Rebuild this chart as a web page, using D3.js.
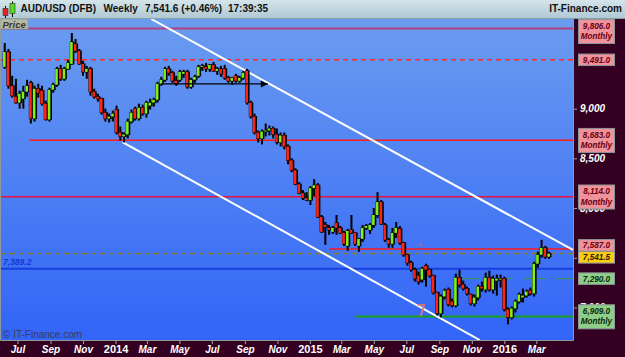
<!DOCTYPE html>
<html>
<head>
<meta charset="utf-8">
<script src="https://cdn.jsdelivr.net/npm/d3@7"></script>
<style>
  body { margin: 0; background: #fff; }
  svg { display: block; font-family: "Liberation Sans", Arial, sans-serif; }
</style>
</head>
<body>
<div id="chart"></div>
<script>
// weekly AUD/USD (DFB) candles, first bar week of 7 Jun 2013
var firstWeek = new Date(2013, 5, 7);

var opens = [9420,9570,9230,9120,9060,9100,9170,9260,8900,9200,9180,9050,8890,9190,9240,9400,9300,9400,9450,
  9650,9580,9450,9370,9400,9170,9120,9100,8960,8900,8920,8990,8760,8720,8740,8870,9000,8900,9010,8950,
  9030,9060,9090,9250,9290,9400,9360,9280,9290,9350,9370,9220,9290,9330,9420,9420,9400,9440,9380,9400,9400,
  9310,9280,9330,9280,9310,9380,9060,8920,8760,8700,8770,8780,8800,8740,8660,8730,8620,8480,8380,8240,
  8150,8100,8080,8200,8230,7910,7830,7800,7760,7850,7800,7750,7620,7780,7750,7620,7690,7800,7780,7830,
  7930,8060,7830,7680,7640,7750,7790,7650,7530,7450,7380,7320,7280,7420,7380,7320,7150,6940,7110,7180,
  7060,7020,7300,7230,7190,7130,7040,7100,7210,7180,7300,7180,7270,7290,7290,6980,6900,6990,7060,7100,
  7120,7170,7140,7440,7530,7600,7510];
var highs = [9660,9600,9330,9300,9180,9230,9290,9280,9230,9250,9230,9080,9210,9260,9420,9440,9420,9490,9760,
  9700,9600,9480,9430,9420,9200,9150,9110,9000,8950,8980,9030,8820,8760,8900,8990,9020,9050,9040,9080,
  9100,9110,9270,9320,9420,9430,9380,9330,9390,9390,9390,9310,9340,9440,9450,9460,9450,9470,9420,9430,9440,
  9330,9320,9350,9330,9380,9400,9080,8950,8780,8790,8850,8830,8820,8800,8760,8760,8640,8500,8400,8260,
  8180,8160,8220,8290,8250,7930,7860,7830,7820,7930,7820,7770,7790,7930,7760,7700,7830,7840,7850,8000,
  8160,8080,7850,7700,7800,7860,7820,7660,7540,7470,7400,7360,7410,7440,7390,7330,7160,7130,7190,7200,
  7090,7340,7380,7270,7210,7140,7130,7230,7260,7350,7370,7320,7330,7330,7310,7000,7010,7080,7150,7190,
  7180,7200,7460,7560,7680,7620,7560];
var lows = [9400,9200,9110,9050,9000,9000,9120,8850,8870,9110,9030,8880,8870,9160,9220,9280,9280,9390,9440,
  9560,9440,9330,9300,9130,9100,9070,8940,8870,8860,8870,8740,8680,8660,8700,8850,8880,8880,8930,8910,
  8990,9020,9060,9230,9270,9330,9260,9230,9270,9310,9200,9200,9260,9310,9380,9370,9370,9370,9340,9320,9290,
  9260,9240,9260,9260,9290,9040,8900,8740,8660,8640,8720,8730,8700,8640,8620,8590,8440,8360,8230,8140,
  8080,8070,8030,8120,7900,7750,7630,7730,7740,7730,7740,7620,7570,7740,7620,7560,7660,7780,7740,7800,
  7900,7830,7660,7600,7600,7700,7630,7510,7420,7360,7260,7230,7250,7210,7300,7130,6920,6900,7080,7010,
  7000,7000,7200,7170,7120,7020,7010,7070,7160,7150,7160,7140,7120,7200,6960,6830,6880,6950,7040,7050,
  7100,7120,7110,7400,7500,7490,7490];
var closes = [9570,9230,9130,9060,9150,9170,9230,8900,9200,9160,9050,8890,9190,9240,9400,9300,9400,9460,9670,
  9580,9450,9370,9400,9170,9120,9100,8960,8900,8920,8950,8760,8720,8740,8870,8960,8900,9010,8950,9060,
  9060,9090,9250,9290,9400,9360,9280,9250,9370,9370,9220,9290,9320,9420,9430,9400,9440,9380,9400,9350,9310,
  9280,9310,9280,9310,9360,9060,8920,8760,8700,8770,8780,8800,8740,8660,8730,8620,8480,8380,8240,8150,
  8100,8080,8200,8230,7910,7760,7810,7780,7800,7800,7750,7640,7770,7750,7640,7690,7800,7820,7830,7930,
  8060,7840,7680,7640,7750,7800,7650,7530,7450,7380,7290,7260,7390,7380,7320,7150,6940,7110,7170,7030,
  7020,7300,7230,7190,7140,7040,7100,7210,7190,7300,7180,7290,7290,7290,6980,6900,6990,7060,7130,7120,
  7160,7140,7440,7530,7600,7510,7542];

// support / resistance levels drawn across the chart
var levelValues = [9806, 9491, 8683, 8114, 7587, 7541.5, 7389.2, 7290, 6909];
var levelTags = ['Monthly', '', 'Monthly', 'Monthly', '', '', '', '', 'Monthly'];
var levelStarts = [null, null, new Date(2013, 6, 23), null, new Date(2015, 1, 6), null, null,
  new Date(2015, 9, 5), new Date(2015, 2, 27)];

// trend channel, arrow and markers (date, price)
var channelUpper = [[new Date(2014, 2, 9), 9902], [new Date(2016, 4, 9), 7578]];
var channelLower = [[new Date(2014, 0, 14), 8664], [new Date(2015, 10, 16), 6672]];
var arrowLine = [[new Date(2014, 2, 28), 9248], [new Date(2014, 9, 14), 9248]];
var flagPoint = [new Date(2015, 6, 28), 6904];
var dotPoint = [new Date(2015, 6, 28), 7630];

var priceTicks = [7000, 7500, 8000, 8500, 9000];
var hiddenTicks = [7500]; // fully covered by the level tags

var width = 625,
    height = 357,
    plotLeft = 1,
    plotRight = 573,
    plotTop = 19,
    plotBottom = 340;

var candles = opens.map(function(o, i) {
    return {
        date: d3.timeWeek.offset(firstWeek, i),
        o: o, h: highs[i], l: lows[i], c: closes[i]
    };
});

var x = d3.scaleTime()
    .domain([new Date(2013, 4, 31), new Date(2016, 4, 9)])
    .range([plotLeft, plotRight]);

var y = d3.scaleLinear()
    .domain([9806, 6909])
    .range([28.5, 316.5]);

var svg = d3.select('#chart').append('svg')
    .attr('width', width)
    .attr('height', height);

var defs = svg.append('defs');

var headGrad = defs.append('linearGradient').attr('id', 'head-grad')
    .attr('x1', 0).attr('y1', 0).attr('x2', 0).attr('y2', 1);
headGrad.append('stop').attr('offset', '0%').attr('stop-color', '#d4e4ea');
headGrad.append('stop').attr('offset', '100%').attr('stop-color', '#afc8d2');

var plotGrad = defs.append('linearGradient').attr('id', 'plot-grad')
    .attr('x1', 0).attr('y1', 0).attr('x2', 0).attr('y2', 1);
plotGrad.append('stop').attr('offset', '0%').attr('stop-color', '#6a9cf0');
plotGrad.append('stop').attr('offset', '100%').attr('stop-color', '#3264f7');

defs.append('clipPath').attr('id', 'plot-clip')
    .append('rect')
    .attr('x', plotLeft).attr('y', plotTop)
    .attr('width', plotRight - plotLeft).attr('height', plotBottom - plotTop);

// dark frame for axes
svg.append('rect')
    .attr('width', width).attr('height', height)
    .attr('fill', '#330022');

// plot background
svg.append('rect')
    .attr('x', plotLeft).attr('y', plotTop)
    .attr('width', plotRight - plotLeft).attr('height', plotBottom - plotTop)
    .attr('fill', 'url(#plot-grad)');

svg.append('path')
    .attr('d', 'M0.5,' + plotTop + 'V' + (plotBottom + 0.5) + 'H' + (plotRight + 0.5) + 'V' + plotTop)
    .attr('fill', 'none')
    .attr('stroke', '#8f9a9c')
    .attr('stroke-width', 1);

var canvas = svg.append('g').attr('clip-path', 'url(#plot-clip)');

// horizontal levels
var levelStyle = [
    { stroke: '#b0407c', width: 2, dash: null },
    { stroke: '#ff2a2a', width: 1.5, dash: '5,4' },
    { stroke: '#ff1a1a', width: 1.5, dash: null },
    { stroke: '#e8123c', width: 1.5, dash: null },
    { stroke: '#ff1a1a', width: 1.5, dash: null },
    { stroke: '#8a7b2c', width: 1.5, dash: '5,4' },
    { stroke: '#1a3fe0', width: 2, dash: null },
    { stroke: '#3c9a3c', width: 1, dash: '22,11' },
    { stroke: '#16a016', width: 2, dash: null }
];

canvas.selectAll('.level')
    .data(levelValues)
    .enter().append('line')
    .attr('class', 'level')
    .attr('x1', function(d, i) { return levelStarts[i] ? x(levelStarts[i]) : plotLeft; })
    .attr('x2', plotRight)
    .attr('y1', function(d) { return y(d); })
    .attr('y2', function(d) { return y(d); })
    .attr('stroke', function(d, i) { return levelStyle[i].stroke; })
    .attr('stroke-width', function(d, i) { return levelStyle[i].width; })
    .attr('stroke-dasharray', function(d, i) { return levelStyle[i].dash; });

// channel
var line = d3.line()
    .x(function(d) { return x(d[0]); })
    .y(function(d) { return y(d[1]); });

canvas.selectAll('.channel')
    .data([channelUpper, channelLower])
    .enter().append('path')
    .attr('class', 'channel')
    .attr('d', line)
    .attr('stroke', '#ffffff')
    .attr('stroke-width', 2)
    .attr('fill', 'none');

// candles
var bars = canvas.selectAll('.candle')
    .data(candles)
    .enter().append('g')
    .attr('class', 'candle')
    .attr('transform', function(d) { return 'translate(' + x(d.date) + ',0)'; });

bars.append('rect')
    .attr('x', -1)
    .attr('width', 2)
    .attr('y', function(d) { return y(d.h); })
    .attr('height', function(d) { return y(d.l) - y(d.h); })
    .attr('fill', '#000');

bars.append('rect')
    .attr('x', -2)
    .attr('width', 4.5)
    .attr('y', function(d) { return y(Math.max(d.o, d.c)) - 0.5; })
    .attr('height', function(d) { return Math.max(2, Math.abs(y(d.o) - y(d.c)) + 1); })
    .attr('fill', '#000');

bars.append('rect')
    .attr('x', -1.7)
    .attr('width', 2.6)
    .attr('y', function(d) { return y(Math.max(d.o, d.c)); })
    .attr('height', function(d) { return Math.max(1, Math.abs(y(d.o) - y(d.c))); })
    .attr('fill', function(d) { return d.c >= d.o ? '#7ef01a' : '#ff2418'; });

// arrow
canvas.append('path')
    .attr('d', line(arrowLine))
    .attr('stroke', '#000')
    .attr('stroke-width', 1.2);

var arrowEnd = [x(arrowLine[1][0]), y(arrowLine[1][1])];
canvas.append('path')
    .attr('d', 'M' + arrowEnd[0] + ',' + arrowEnd[1] + 'l-7,-3.5v7z')
    .attr('fill', '#000');

// small markers
canvas.append('path')
    .attr('transform', 'translate(' + x(flagPoint[0]) + ',' + y(flagPoint[1]) + ')')
    .attr('d', 'M-3.5,-12h7l-3.5,11')
    .attr('fill', 'none')
    .attr('stroke', '#f07868')
    .attr('stroke-width', 1.6);

canvas.append('circle')
    .attr('cx', x(dotPoint[0]))
    .attr('cy', y(dotPoint[1]))
    .attr('r', 0.9)
    .attr('fill', '#ff6a33');

// blue level label on the left
svg.append('text')
    .attr('x', 3)
    .attr('y', y(levelValues[6]) - 3.5)
    .attr('fill', '#1437d6')
    .attr('font-size', 8.5)
    .attr('font-weight', 'bold')
    .attr('font-style', 'italic')
    .text(d3.format(',.1f')(levelValues[6]));

// Price tag
svg.append('rect')
    .attr('x', 0).attr('y', plotTop)
    .attr('width', 28).attr('height', 10)
    .attr('fill', '#b6b9a6')
    .attr('stroke', '#8e9484')
    .attr('stroke-width', 0.6);
svg.append('text')
    .attr('x', 2.5).attr('y', 27.5)
    .attr('font-size', 9.5)
    .attr('font-weight', 'bold')
    .attr('font-style', 'italic')
    .attr('fill', '#38382a')
    .text('Price');

svg.append('text')
    .attr('x', 3).attr('y', 337.5)
    .attr('font-size', 10)
    .attr('fill', '#3a3d5c')
    .text('\u00a9 IT-Finance.com');

// header
svg.append('rect')
    .attr('width', width).attr('height', plotTop)
    .attr('fill', 'url(#head-grad)');
svg.append('line')
    .attr('x1', 0).attr('x2', width)
    .attr('y1', plotTop - 0.5).attr('y2', plotTop - 0.5)
    .attr('stroke', '#8d9fa6');

var icon = svg.append('g');
icon.append('line').attr('x1', 5.5).attr('x2', 5.5).attr('y1', 6).attr('y2', 18).attr('stroke', '#000');
icon.append('rect').attr('x', 3).attr('y', 8.5).attr('width', 5).attr('height', 7)
    .attr('fill', '#ee2222').attr('stroke', '#333').attr('stroke-width', 0.6);
icon.append('line').attr('x1', 12.5).attr('x2', 12.5).attr('y1', 1.5).attr('y2', 17).attr('stroke', '#000');
icon.append('rect').attr('x', 10).attr('y', 3.5).attr('width', 5).attr('height', 10)
    .attr('fill', '#55dd22').attr('stroke', '#333').attr('stroke-width', 0.6);

var titleParts = [
    { text: 'AUD/USD (DFB)', x: 20.5 },
    { text: 'Weekly', x: 103.5 },
    { text: '7,541.6 (+0.46%)', x: 145 },
    { text: '17:39:35', x: 228 }
];
svg.selectAll('.title')
    .data(titleParts)
    .enter().append('text')
    .attr('class', 'title')
    .attr('x', function(d) { return d.x; })
    .attr('y', 12)
    .attr('font-size', 10)
    .attr('font-weight', 'bold')
    .attr('fill', '#111')
    .text(function(d) { return d.text; });

svg.append('text')
    .attr('x', 622).attr('y', 12)
    .attr('text-anchor', 'end')
    .attr('font-size', 10)
    .attr('font-weight', 'bold')
    .attr('fill', '#111')
    .text('IT-Finance.com');

// right price axis
var yAxis = svg.append('g')
    .attr('transform', 'translate(' + plotRight + ',0)')
    .call(d3.axisRight(y).tickValues(priceTicks).tickSize(4).tickPadding(3).tickFormat(function(d) {
        return hiddenTicks.indexOf(d) < 0 ? d3.format(',')(d) : '';
    }));
yAxis.select('.domain').remove();
yAxis.selectAll('line').attr('stroke', '#9aa0a4').attr('x1', 0.5);
yAxis.selectAll('text')
    .attr('fill', '#ffffff')
    .attr('font-family', '"Liberation Sans", Arial, sans-serif')
    .attr('font-size', 10)
    .attr('font-weight', 'bold')
    .attr('font-style', 'italic');

// level tags on the right
var tagFill = ['#ef929b', '#ef929b', '#ef929b', '#ef929b', '#ef929b', '#ffcc14', null, '#8fce88', '#8fce88'];
var tagInk = ['#6a0010', '#6a0010', '#6a0010', '#6a0010', '#6a0010', '#2a1a00', null, '#0c2a0c', '#0c2a0c'];

var tags = levelValues.map(function(v, i) {
    var two = levelTags[i] !== '';
    var h = two ? 24 : 11.5;
    return { i: i, value: v, tag: levelTags[i], h: h, top: two ? y(v) - 11.7 : y(v) - h / 2 };
}).filter(function(d) { return tagFill[d.i]; });

tags.sort(function(a, b) { return a.top - b.top; });
tags.forEach(function(d, k) {
    if (d.top < plotTop + 0.5) d.top = plotTop + 0.5;
    var prev = tags[k - 1];
    if (prev && d.top < prev.top + prev.h + 0.5) {
        var overlap = prev.top + prev.h + 0.5 - d.top;
        prev.top -= overlap / 2;
        d.top += overlap / 2;
    }
});

var tagGroups = svg.selectAll('.tag')
    .data(tags)
    .enter().append('g')
    .attr('class', 'tag')
    .attr('transform', function(d) { return 'translate(578,' + d.top + ')'; });

tagGroups.append('rect')
    .attr('x', 0.5).attr('y', 0)
    .attr('width', 36).attr('height', function(d) { return d.h; })
    .attr('fill', function(d) { return tagFill[d.i]; })
    .attr('stroke', '#8c9696')
    .attr('stroke-width', 1);

tagGroups.append('text')
    .attr('x', 18.5)
    .attr('y', function(d) { return d.tag ? 9.3 : 8.8; })
    .attr('text-anchor', 'middle')
    .attr('font-size', 8.2)
    .attr('font-weight', 'bold')
    .attr('font-style', 'italic')
    .attr('fill', function(d) { return tagInk[d.i]; })
    .text(function(d) { return d3.format(',.1f')(d.value); });

tagGroups.filter(function(d) { return d.tag; })
    .append('text')
    .attr('x', 18.5)
    .attr('y', 19.5)
    .attr('text-anchor', 'middle')
    .attr('font-size', 8.2)
    .attr('font-weight', 'bold')
    .attr('font-style', 'italic')
    .attr('fill', function(d) { return tagInk[d.i]; })
    .text(function(d) { return d.tag; });

// bottom date axis
var monthTicks = d3.timeMonth.every(2).range(new Date(2013, 5, 1), new Date(2016, 4, 1));
var xAxis = svg.append('g')
    .attr('transform', 'translate(0,' + plotBottom + ')')
    .call(d3.axisBottom(x).tickValues(monthTicks).tickSize(4).tickFormat(function(d) {
        return d.getMonth() === 0 ? d3.timeFormat('%Y')(d) : d3.timeFormat('%b')(d);
    }));
xAxis.select('.domain').remove();
xAxis.selectAll('line').attr('stroke', '#9aa0a4').attr('y1', 1);
xAxis.selectAll('text')
    .attr('y', 13)
    .attr('dy', 0)
    .attr('fill', '#ffffff')
    .attr('font-family', '"Liberation Sans", Arial, sans-serif')
    .attr('font-weight', 'bold')
    .attr('font-size', function(d) { return d.getMonth() === 0 ? 11 : 10; })
    .attr('font-style', function(d) { return d.getMonth() === 0 ? 'normal' : 'italic'; });
</script>
</body>
</html>
